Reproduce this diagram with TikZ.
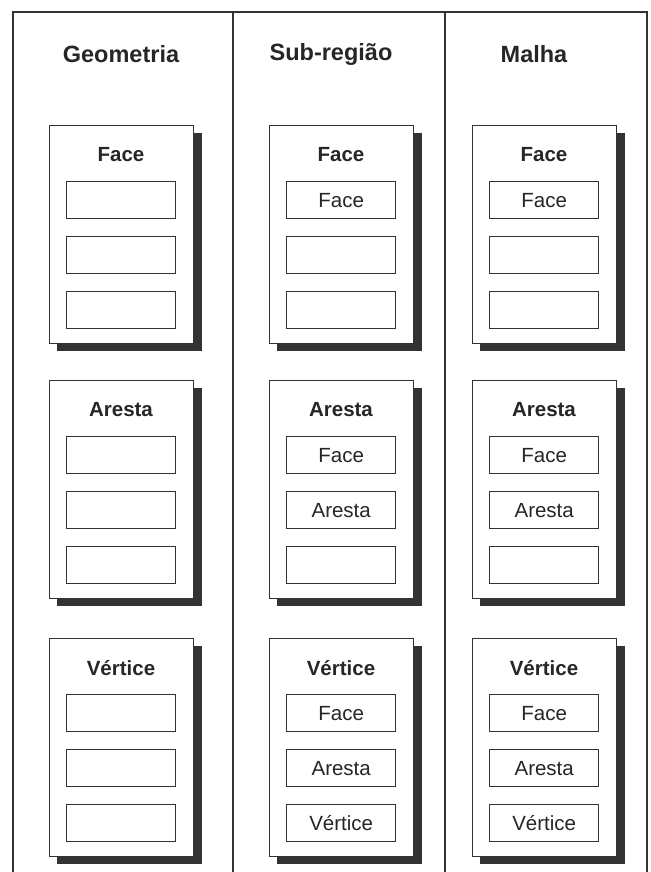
\documentclass[tikz,border=0pt]{standalone}
\usepackage{fontspec}
\setmainfont{Liberation Sans}
\begin{document}
\begin{tikzpicture}[x=1pt,y=-1pt,
  ln/.style={draw=black!80, line width=1.4pt},
  card/.style={ln, fill=white, rectangle, minimum width=144pt, minimum height=218pt, inner sep=0pt, anchor=north west},
  shade/.style={fill=black!80, draw=none},
  slot/.style={ln, fill=white, rectangle, minimum width=109pt, minimum height=37pt, inner sep=0pt, anchor=north west, font=\fontsize{20.5}{22}\selectfont, text=black!85},
  ctitle/.style={font=\bfseries\fontsize{23.5}{26}\selectfont, text=black!85},
  btitle/.style={font=\bfseries\fontsize{20.5}{22}\selectfont, text=black!85}]
\useasboundingbox (0,0) rectangle (650,872);
\fill[white] (0,0) rectangle (650,872);
% frame
\draw[ln] (13,872) -- (13,12) -- (647,12) -- (647,872);
\draw[ln] (233,12) -- (233,872);
\draw[ln] (445,12) -- (445,872);
% column titles
\node[ctitle] (col-1) at (121,54) {Geometria};
\node[ctitle] (col-2) at (331,54) {Sub-região};
\node[ctitle] (col-3) at (534,54) {Malha};
% cards
\foreach \c/\L in {1/49, 2/269, 3/472} {
  \foreach \r/\T in {1/125, 2/380, 3/638} {
    \fill[shade] (\L+8,\T+8) rectangle (\L+153,\T+226);
    \node[card] (card-\c-\r) at (\L,\T) {};
    \node[btitle] (title-\c-\r) at (\L+72,\T+30) {\ifcase\r\or Face\or Aresta\or V\'ertice\fi};
    \foreach \s/\dy in {1/56, 2/111, 3/166} {
      \node[slot] (slot-\c-\r-\s) at (\L+17,\T+\dy)
        {\ifnum\c>1 \ifnum\s>\r \else \ifcase\s\or Face\or Aresta\or V\'ertice\fi\fi\fi};
    }
  }
}
\end{tikzpicture}
\end{document}
